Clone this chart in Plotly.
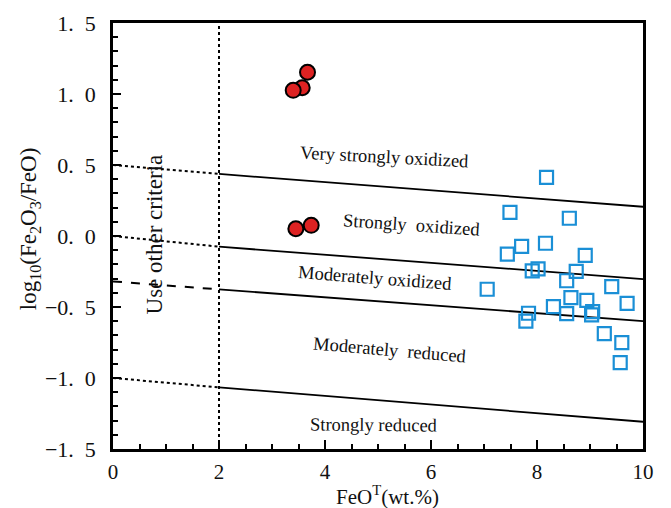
import plotly.graph_objects as go

# ---- data ----
red_x = [3.67, 3.57, 3.40, 3.45, 3.74]
red_y = [1.153, 1.044, 1.026, 0.051, 0.075]

blue_x = [8.18, 7.49, 8.61, 8.16, 7.71, 7.44, 8.91, 7.91, 8.02, 8.74, 8.56, 7.06, 9.41,
          8.64, 8.94, 9.70, 8.31, 8.56, 7.84, 7.79, 9.05, 9.03, 9.27, 9.60, 9.57]
blue_y = [0.413, 0.167, 0.125, -0.051, -0.073, -0.127, -0.136, -0.246, -0.232, -0.249,
          -0.315, -0.375, -0.357, -0.434, -0.453, -0.474, -0.498, -0.547, -0.544, -0.599,
          -0.533, -0.556, -0.688, -0.751, -0.892]

# boundary lines: values at FeOT = 0, 2, 10
bx = [0, 2, 10]
b1 = [0.50, 0.437, 0.206]
b2 = [0.00, -0.075, -0.303]
b3 = [-0.32, -0.376, -0.599]
b4 = [-1.00, -1.066, -1.308]
bound_dash = ["dot", "dot", "dash", "dot"]

y_ticks = [1.5, 1.0, 0.5, 0.0, -0.5, -1.0, -1.5]
y_ticktext = ["1.\u00a0\u00a05", "1.\u00a0\u00a00", "0.\u00a0\u00a05", "0.\u00a0\u00a00",
              "−0.\u00a0\u00a05", "−1.\u00a0\u00a00", "−1.\u00a0\u00a05"]
x_ticks = [0, 2, 4, 6, 8, 10]

labels = ["Very strongly oxidized", "Strongly  oxidized", "Moderately oxidized",
          "Moderately  reduced", "Strongly reduced"]
label_x = [5.13, 5.64, 4.94, 5.23, 4.92]
label_y = [0.556, 0.077, -0.296, -0.803, -1.331]
label_ang = [3, 4, 4.4, 4.9, 0.5]

SERIF = "Liberation Serif"

fig = go.Figure()

for b, d in zip([b1, b2, b3, b4], bound_dash):
    fig.add_trace(go.Scatter(x=bx[:2], y=b[:2], mode="lines",
                             line=dict(color="black", width=2, dash=d),
                             showlegend=False, hoverinfo="skip"))
    fig.add_trace(go.Scatter(x=bx[1:], y=b[1:], mode="lines",
                             line=dict(color="black", width=1.8),
                             showlegend=False, hoverinfo="skip"))

# vertical dotted line at FeOT = 2
fig.add_trace(go.Scatter(x=[2, 2], y=[-1.5, 1.5], mode="lines",
                         line=dict(color="black", width=2, dash="dot"),
                         showlegend=False, hoverinfo="skip"))

fig.add_trace(go.Scatter(x=blue_x, y=blue_y, mode="markers",
                         marker=dict(symbol="square-open", size=13,
                                     color="#1a8fd6", line=dict(width=2.2, color="#1a8fd6")),
                         showlegend=False))
fig.add_trace(go.Scatter(x=red_x, y=red_y, mode="markers",
                         marker=dict(symbol="circle", size=15, color="#dd2222",
                                     line=dict(width=2, color="black")),
                         showlegend=False))

for t, x, y, a in zip(labels, label_x, label_y, label_ang):
    fig.add_annotation(x=x, y=y, text=t, textangle=a, showarrow=False,
                       font=dict(family=SERIF, size=18.5, color="#111"))

fig.add_annotation(x=0.79, y=0.01, text="Use other criteria", textangle=-90,
                   showarrow=False, font=dict(family=SERIF, size=23, color="#111"))

# axis titles
fig.add_annotation(xref="paper", yref="paper", x=-0.1566, y=0.516,
                   xanchor="center", yanchor="middle",
                   text="log<sub>10</sub>(Fe<sub>2</sub>O<sub>3</sub>/FeO)", textangle=-90,
                   showarrow=False, font=dict(family=SERIF, size=23, color="#111"))
fig.add_annotation(xref="paper", yref="paper", x=0.517, y=-0.108,
                   xanchor="center", yanchor="middle",
                   text="FeO<sup>T</sup>(wt.%)",
                   showarrow=False, font=dict(family=SERIF, size=21, color="#111"))

fig.update_layout(
    width=671, height=508,
    margin=dict(l=113, r=28, t=23, b=59),
    plot_bgcolor="white", paper_bgcolor="white",
    font=dict(family=SERIF, color="#111"),
)
fig.update_xaxes(
    range=[0, 10], tickvals=x_ticks, ticks="inside", ticklen=9, tickwidth=2,
    tickcolor="black", showline=True, linewidth=2.5, linecolor="black", mirror=True,
    showgrid=False, zeroline=False, tickfont=dict(family=SERIF, size=21),
    ticklabelstandoff=2,
    minor=dict(dtick=0.5, ticks="inside", ticklen=5, tickwidth=2, tickcolor="black"),
)
fig.update_yaxes(
    range=[-1.5, 1.5], tickvals=y_ticks, ticktext=y_ticktext, ticks="inside",
    ticklen=8, tickwidth=2, tickcolor="black", showline=True, linewidth=2.5,
    linecolor="black", mirror=True, showgrid=False, zeroline=False,
    tickfont=dict(family=SERIF, size=22), ticklabelstandoff=10,
    minor=dict(dtick=0.1, ticks="inside", ticklen=5, tickwidth=2, tickcolor="black"),
)

fig.write_html("out.html")
